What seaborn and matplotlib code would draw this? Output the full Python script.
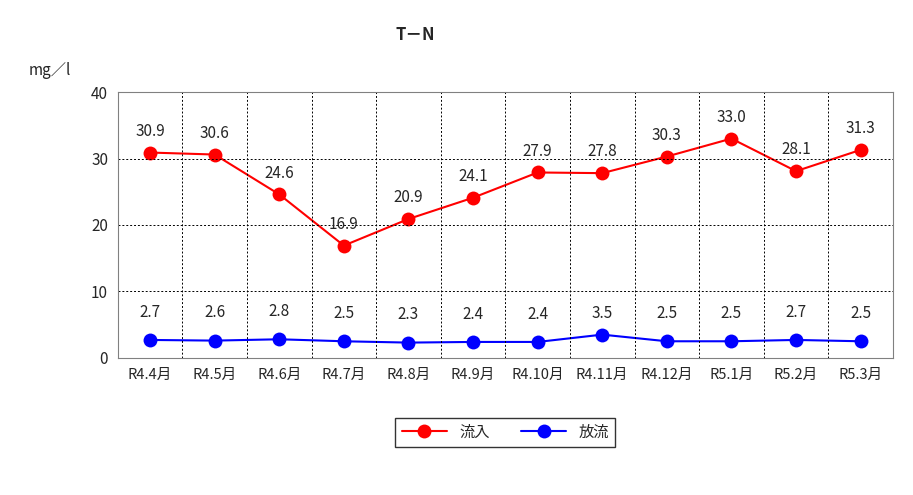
import matplotlib
matplotlib.use('Agg')
import matplotlib.pyplot as plt
import seaborn as sns
import pandas as pd

months = ['R4.4月', 'R4.5月', 'R4.6月', 'R4.7月', 'R4.8月', 'R4.9月', 'R4.10月',
          'R4.11月', 'R4.12月', 'R5.1月', 'R5.2月', 'R5.3月']
inflow = [30.9, 30.6, 24.6, 16.9, 20.9, 24.1, 27.9, 27.8, 30.3, 33.0, 28.1, 31.3]
outflow = [2.7, 2.6, 2.8, 2.5, 2.3, 2.4, 2.4, 3.5, 2.5, 2.5, 2.7, 2.5]

sns.set_style('white')
plt.rcParams['font.family'] = ['Noto Sans CJK JP', 'DejaVu Sans']

idx = list(range(len(months)))
df = pd.DataFrame({'x': idx * 2, 'y': inflow + outflow,
                   's': ['流入'] * 12 + ['放流'] * 12})

fig = plt.figure(figsize=(9.13, 4.95), dpi=100)
ax = fig.add_axes([0.129, 0.277, 0.849, 0.537])
sns.lineplot(data=df, x='x', y='y', hue='s', palette={'流入': '#ff0000', '放流': '#0000ff'},
             marker='o', markersize=10, markeredgewidth=0, linewidth=1.5, ax=ax)

for i in idx:
    ax.text(i, inflow[i] + 3.2, f'{inflow[i]:.1f}', ha='center', va='center', fontsize=11)
    ax.text(i, outflow[i] + 4.2 if i != 7 else outflow[i] + 3.2, f'{outflow[i]:.1f}',
            ha='center', va='center', fontsize=11)

ax.set_xlim(-0.5, 11.5)
ax.set_ylim(0, 40)
ax.set_yticks([0, 10, 20, 30, 40])
ax.set_xticks(idx)
ax.set_xticklabels(months, fontsize=10.5)
ax.tick_params(axis='y', labelsize=11)
for k in range(1, 12):
    ax.axvline(k - 0.5, color='black', linestyle=(0, (2, 2)), linewidth=0.7)
for v in [10, 20, 30]:
    ax.axhline(v, color='black', linestyle=(0, (2, 2)), linewidth=0.7)
for s in ax.spines.values():
    s.set_color('#808080')
ax.set_xlabel('')
ax.set_ylabel('')

fig.text(0.455, 0.93, 'T－N', ha='center', va='center', fontsize=12, fontweight='bold')
fig.text(0.055, 0.858, 'mg／l', ha='center', va='center', fontsize=11)

h, l = ax.get_legend_handles_labels()
ax.legend(h, l, loc='center', bbox_to_anchor=(0.5, -0.28), ncol=2, frameon=True,
          fancybox=False, edgecolor='black', fontsize=11, handlelength=3)

fig.savefig('out.png', dpi=100)
